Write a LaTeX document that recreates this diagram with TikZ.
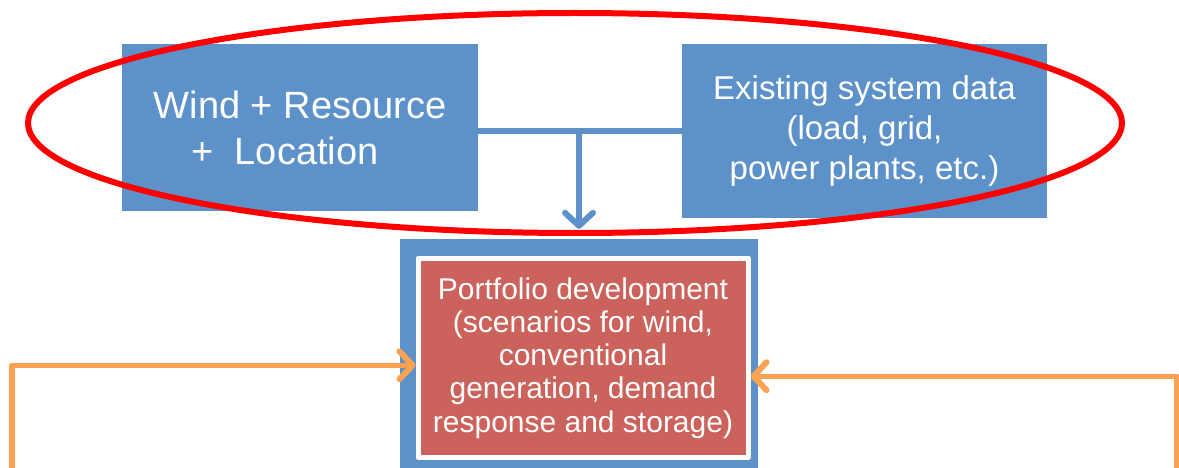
\documentclass[tikz,border=0pt]{standalone}
\usepackage{fontspec}
\setmainfont{Liberation Sans}
\usetikzlibrary{arrows.meta,positioning}
\definecolor{boxblue}{RGB}{92,146,201}
\definecolor{boxred}{RGB}{204,98,92}
\definecolor{loopline}{RGB}{248,162,82}
\begin{document}
\begin{tikzpicture}[x=1pt,y=-1pt,>={Straight Barb[length=13pt,width=28pt,round,line width=6pt]},line join=round,line cap=round,
	bluebox/.style={fill=boxblue,inner sep=0pt,text=white,align=center},
	redbox/.style={fill=boxred,draw=white,line width=5pt,inner sep=0pt,text=white,align=center},
	link/.style={draw=boxblue,line width=6pt},
	feedback/.style={draw=loopline,line width=5.5pt}]
	\useasboundingbox (0,0) rectangle (1179,468);
	% input boxes
	\node[bluebox,minimum width=356pt,minimum height=167pt,font=\fontsize{38}{46}\selectfont] (wind) at (300,127.5)
		{Wind + Resource\\+\ \ Location\rule{30pt}{0pt}};
	\node[bluebox,minimum width=365pt,minimum height=174pt,font=\fontsize{33}{40}\selectfont] (existing) at (864.5,131)
		{Existing system data\\(load, grid,\\power plants, etc.)};
	% portfolio box
	\node[bluebox,minimum width=358pt,minimum height=229pt] (outer) at (579,353.5) {};
	\node[redbox,minimum width=330pt,minimum height=199.5pt,font=\fontsize{30}{33.25}\selectfont] (portfolio) at (583,357.75)
		{Portfolio development\\(scenarios for wind,\\conventional\\generation, demand\\response and storage)};
	% connectors
	\coordinate (fork) at (579,131);
	\draw[link] (wind.east |- fork) -- (existing.west |- fork);
	\draw[link,->] (fork) -- ([yshift=10pt]outer.north);
	\coordinate (leftfoot) at (12,470);
	\coordinate (rightfoot) at (1177,470);
	\draw[feedback,->] (leftfoot) |- ([yshift=-7.5pt]portfolio.west);
	\draw[feedback,->] (rightfoot) |- ([yshift=-18.5pt]portfolio.east);
	% highlight
	\draw[red,line width=6pt] (575,123) ellipse [x radius=547,y radius=110];
\end{tikzpicture}
\end{document}
